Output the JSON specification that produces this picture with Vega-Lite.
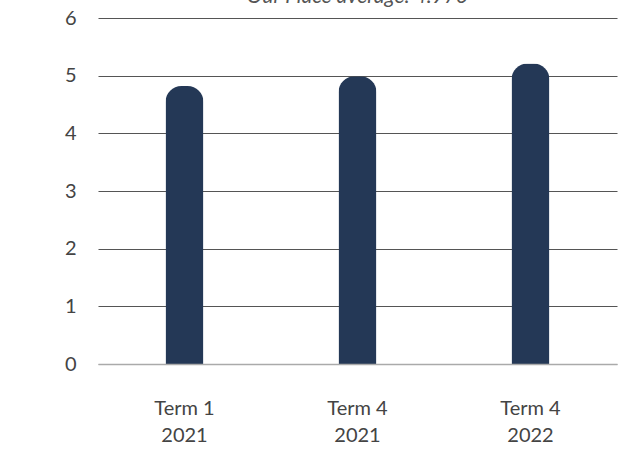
{
  "$schema": "https://vega.github.io/schema/vega-lite/v6.json",
  "width": 519,
  "height": 346,
  "autosize": {"type": "none"},
  "padding": {"left": 98, "top": 18, "right": 6, "bottom": 86},
  "background": "white",
  "config": {"view": {"stroke": null}, "font": "Lato"},
  "title": {
    "text": "Our Place average: 4.973",
    "fontStyle": "italic",
    "fontWeight": "normal",
    "fontSize": 21,
    "color": "#555555",
    "frame": "group",
    "anchor": "middle",
    "baseline": "alphabetic",
    "offset": 0,
    "dy": 16,
    "font": "Lato"
  },
  "data": {
    "values": [
      {"term": "Term 1\n2021", "score": 4.82},
      {"term": "Term 4\n2021", "score": 4.99},
      {"term": "Term 4\n2022", "score": 5.21}
    ]
  },
  "mark": {
    "type": "bar",
    "width": 38,
    "color": "#243856",
    "cornerRadiusTopLeft": 16,
    "cornerRadiusTopRight": 16
  },
  "encoding": {
    "x": {
      "field": "term",
      "type": "nominal",
      "sort": null,
      "title": null,
      "axis": {
        "labelAngle": 0,
        "labelExpr": "split(datum.value, '\\n')",
        "labelFontSize": 20,
        "labelColor": "#444444",
        "labelPadding": 34,
        "labelLineHeight": 27,
        "ticks": false,
        "domain": true,
        "domainColor": "#aaaaaa",
        "domainWidth": 1.5,
        "zindex": 1,
        "labelFont": "Lato"
      }
    },
    "y": {
      "field": "score",
      "type": "quantitative",
      "scale": {"domain": [0, 6]},
      "title": null,
      "axis": {
        "values": [0, 1, 2, 3, 4, 5, 6],
        "labelFontSize": 20,
        "labelColor": "#444444",
        "labelPadding": 22,
        "ticks": false,
        "domain": false,
        "grid": true,
        "gridColor": {"condition": {"test": "datum.value === 0", "value": "#aaaaaa"}, "value": "#555555"},
        "gridWidth": 1.2,
        "labelFont": "Lato"
      }
    }
  }
}
